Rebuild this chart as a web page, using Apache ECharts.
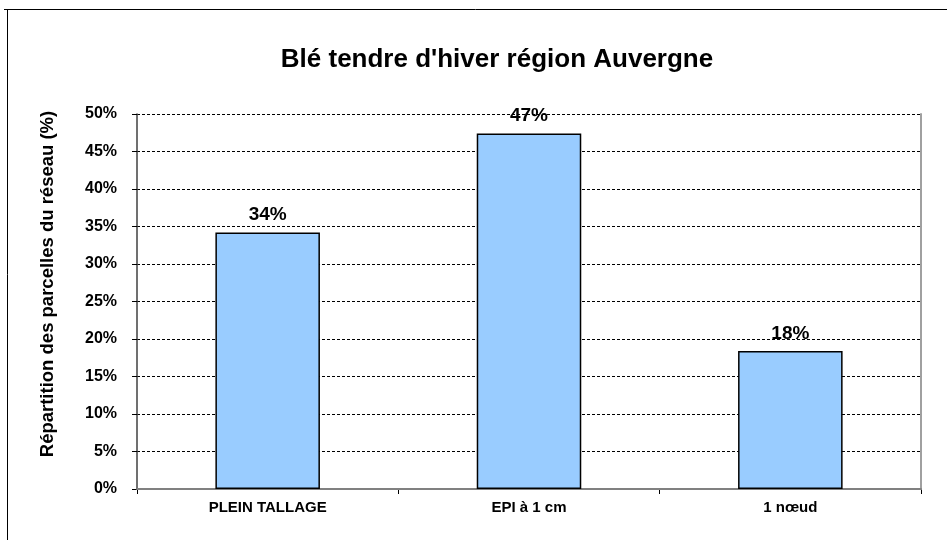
<!DOCTYPE html>
<html>
<head>
<meta charset="utf-8">
<script src="https://cdn.jsdelivr.net/npm/echarts@6/dist/echarts.min.js"></script>
<style>html,body{margin:0;padding:0;background:#fff}#c{width:947px;height:540px}</style>
</head>
<body>
<div id="c"></div>
<script>
const titleText = "Blé tendre d'hiver région Auvergne";
const yAxisName = "Répartition des parcelles du réseau (%)";
const categories = ["PLEIN TALLAGE", "EPI à 1 cm", "1 nœud"];
const values = [34.2, 47.4, 18.4];
const yMin = 0, yMax = 50, yStep = 5;

const chart = echarts.init(document.getElementById('c'), null, {renderer: 'canvas'});
const font = 'Arial, "Liberation Sans", sans-serif';
chart.setOption({
  animation: false,
  backgroundColor: '#fff',
  title: {
    text: titleText, left: 492, top: 42, textAlign: 'center',
    textStyle: {fontFamily: font, fontWeight: 'bold', fontSize: 26, color: '#000'}
  },
  grid: {left: 137, right: 26, top: 114, bottom: 51, containLabel: false},
  xAxis: [{
    type: 'category', data: categories,
    axisLine: {lineStyle: {color: '#000', width: 1.5}},
    axisTick: {show: true, alignWithLabel: false, length: 5, lineStyle: {color: '#000'}},
    axisLabel: {fontFamily: font, fontWeight: 'bold', fontSize: 15, color: '#000', margin: 11},
    splitLine: {show: false}
  }, {
    type: 'category', data: categories, position: 'top', z: 1,
    axisLine: {lineStyle: {color: '#808080', width: 2}},
    axisTick: {show: false}, axisLabel: {show: false}
  }],
  yAxis: [{
    type: 'value', min: yMin, max: yMax, interval: yStep,
    axisLine: {show: true, lineStyle: {color: '#404040', width: 1.5}},
    axisTick: {show: true, length: 5, lineStyle: {color: '#000'}},
    axisLabel: {fontFamily: font, fontWeight: 'bold', fontSize: 16, color: '#000', margin: 20, formatter: '{value}%'},
    splitLine: {show: true, lineStyle: {color: '#000', width: 1, type: [3, 2]}}
  }, {
    type: 'value', min: yMin, max: yMax, interval: yStep, position: 'right', z: 1,
    axisLine: {show: true, lineStyle: {color: '#a0a0a0', width: 2}},
    axisTick: {show: false}, axisLabel: {show: false}, splitLine: {show: false}
  }],
  series: [{
    type: 'bar', data: values, barWidth: '40%', z: 3,
    itemStyle: {color: '#99CCFF', borderColor: '#000', borderWidth: 1.5},
    label: {
      show: true, position: 'top', distance: 8,
      fontFamily: font, fontWeight: 'bold', fontSize: 19, color: '#000',
      formatter: p => Math.round(p.value) + '%'
    }
  }],
  graphic: [
    {type: 'line', shape: {x1: 4, y1: 9.5, x2: 947, y2: 9.5}, style: {stroke: '#000', lineWidth: 1}},
    {type: 'line', shape: {x1: 7.5, y1: 9, x2: 7.5, y2: 540}, style: {stroke: '#000', lineWidth: 1}},
    {type: 'text', x: 48, y: 284, rotation: Math.PI / 2,
     style: {text: yAxisName, fontFamily: font, fontWeight: 'bold', fontSize: 18.5, fill: '#000',
             textAlign: 'center', textVerticalAlign: 'middle'}}
  ]
});
</script>
</body>
</html>
